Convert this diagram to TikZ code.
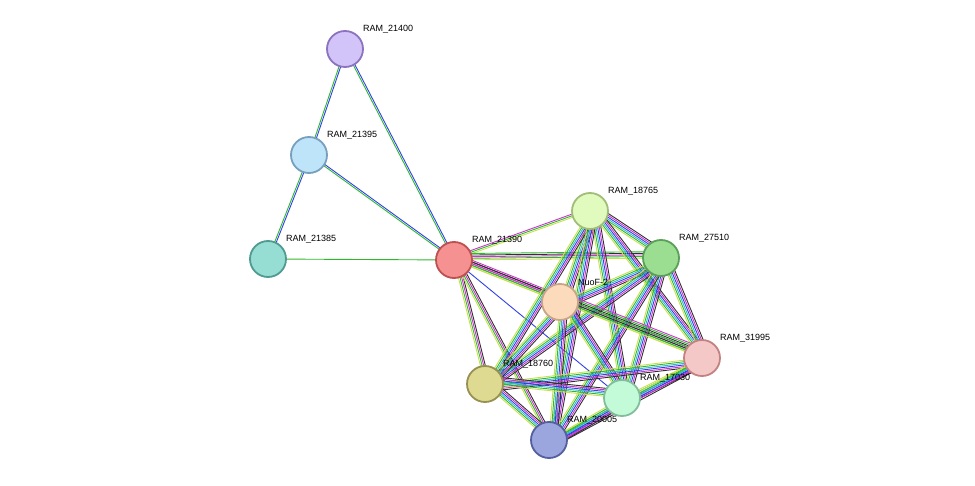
\documentclass[tikz,border=0pt]{standalone}
\usepackage{fontspec}
\setmainfont{Liberation Sans}
\usetikzlibrary{calc,backgrounds}
\definecolor{cY}{HTML}{C8E050}
\definecolor{cG}{HTML}{2EB82E}
\definecolor{cC}{HTML}{30B8C8}
\definecolor{cB}{HTML}{3040E8}
\definecolor{cM}{HTML}{D030D0}
\definecolor{cK}{HTML}{303030}
\tikzset{
  prot/.style={circle,minimum size=36pt,inner sep=0pt,line width=1.8pt},
  lab/.style={font=\fontsize{9}{10}\selectfont,anchor=south west,inner sep=1pt},
}
\newcommand\myedge[3]{%
  \foreach \c [count=\i] in {#3} {%
    \pgfmathsetmacro\off{(\i-1)*1.6}%
    \draw[\c,line width=0.9pt] ($(#1)!\off pt!90:(#2)$) -- ($(#2)!\off pt!-90:(#1)$);
  }}
\begin{document}
\begin{tikzpicture}[x=1pt,y=-1pt]
\useasboundingbox (0,0) rectangle (975,486);
\node[prot,fill={rgb,255:red,210;green,195;blue,248},draw={rgb,255:red,140;green,115;blue,190}] (a) at (345,49) {};
\node[prot,fill={rgb,255:red,190;green,228;blue,250},draw={rgb,255:red,120;green,160;blue,190}] (b) at (309,155) {};
\node[prot,fill={rgb,255:red,150;green,222;blue,212},draw={rgb,255:red,80;green,155;blue,145}] (c) at (268,259) {};
\node[prot,fill={rgb,255:red,245;green,145;blue,145},draw={rgb,255:red,190;green,80;blue,80}] (d) at (454,260) {};
\node[prot,fill={rgb,255:red,225;green,250;blue,190},draw={rgb,255:red,160;green,190;blue,120}] (e) at (590,211) {};
\node[prot,fill={rgb,255:red,155;green,222;blue,145},draw={rgb,255:red,90;green,160;blue,90}] (f) at (661,258) {};
\node[prot,fill={rgb,255:red,252;green,218;blue,188},draw={rgb,255:red,200;green,165;blue,135}] (g) at (560,302) {};
\node[prot,fill={rgb,255:red,245;green,200;blue,200},draw={rgb,255:red,195;green,130;blue,130}] (h) at (702,358) {};
\node[prot,fill={rgb,255:red,222;green,218;blue,145},draw={rgb,255:red,150;green,145;blue,80}] (i) at (485,384) {};
\node[prot,fill={rgb,255:red,195;green,250;blue,215},draw={rgb,255:red,130;green,190;blue,155}] (j) at (622,398) {};
\node[prot,fill={rgb,255:red,155;green,165;blue,222},draw={rgb,255:red,85;green,95;blue,160}] (k) at (549,440) {};
\begin{scope}[on background layer]
\myedge{a}{b}{cG,cB}
\myedge{a}{d}{cG,cB}
\myedge{b}{c}{cG,cB}
\myedge{b}{d}{cG,cB}
\myedge{c}{d}{cG}
\myedge{d}{e}{cY,cG,cM}
\myedge{d}{f}{cY,cG,cM,cK,cG}
\myedge{d}{g}{cY,cG,cM,cK,cM}
\myedge{d}{h}{cY,cG,cM,cK}
\myedge{d}{i}{cY,cG,cM,cK}
\myedge{d}{j}{cB}
\myedge{d}{k}{cY,cG,cM,cK}
\foreach \p/\q in {e/f,e/g,e/h,e/i,e/j,e/k,f/g,f/h,f/i,f/j,f/k,g/i,g/j,g/k,h/i,h/j,h/k,i/j,i/k,j/k}{
  \myedge{\p}{\q}{cY,cG,cC,cB,cM,cK}}
\myedge{g}{h}{cY,cG,cK,cG,cK,cG,cM}
\end{scope}
\node[lab] at (362,34) {RAM\_21400};
\node[lab] at (326,140) {RAM\_21395};
\node[lab] at (285,244) {RAM\_21385};
\node[lab] at (471,245) {RAM\_21390};
\node[lab] at (607,196) {RAM\_18765};
\node[lab] at (678,243) {RAM\_27510};
\node[lab] at (577,287) {NuoF-2};
\node[lab] at (719,343) {RAM\_31995};
\node[lab] at (502,369) {RAM\_18760};
\node[lab] at (639,383) {RAM\_17030};
\node[lab] at (566,425) {RAM\_20005};
\end{tikzpicture}
\end{document}
